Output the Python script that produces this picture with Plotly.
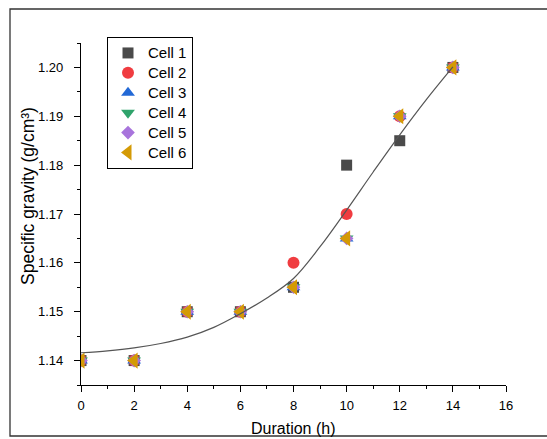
import plotly.graph_objects as go

duration = [0, 2, 4, 6, 8, 10, 12, 14]
cell1 = [1.14, 1.14, 1.15, 1.15, 1.155, 1.18, 1.185, 1.20]
cell2 = [1.14, 1.14, 1.15, 1.15, 1.16, 1.17, 1.19, 1.20]
cell3 = [1.14, 1.14, 1.15, 1.15, 1.155, 1.165, 1.19, 1.20]
cell4 = [1.14, 1.14, 1.15, 1.15, 1.155, 1.165, 1.19, 1.20]
cell5 = [1.14, 1.14, 1.15, 1.15, 1.155, 1.165, 1.19, 1.20]
cell6 = [1.14, 1.14, 1.15, 1.15, 1.155, 1.165, 1.19, 1.20]

fit_x = [0, 1, 2, 3, 4, 5, 6, 7, 8, 9, 10, 11, 12, 13, 14]
fit_y = [1.1416, 1.1420, 1.1426, 1.1435, 1.1448, 1.1468, 1.1496, 1.1528,
         1.1568, 1.1633, 1.1708, 1.1786, 1.1862, 1.1934, 1.2001]

series = [
    ("Cell 1", cell1, "square", "#4a4a4a", 11),
    ("Cell 2", cell2, "circle", "#f03c40", 12),
    ("Cell 3", cell3, "triangle-up", "#2369d6", 12),
    ("Cell 4", cell4, "triangle-down", "#2fa36b", 12),
    ("Cell 5", cell5, "diamond", "#a874dc", 10.5),
    ("Cell 6", cell6, "triangle-left", "#d49a05", 14),
]

fig = go.Figure()
for name, vals, sym, col, sz in series:
    fig.add_trace(go.Scatter(
        x=duration, y=vals, mode="markers",
        name="<span style='font-size:15px'>" + name + "</span>",
        marker=dict(symbol=sym, size=sz, color=col, line=dict(width=0)),
    ))

fig.add_trace(go.Scatter(
    x=fit_x, y=fit_y, mode="lines", line=dict(color="#555555", width=1.2, shape="spline"),
    showlegend=False, hoverinfo="skip",
))

W, H = 547, 439
L, R, T, B = 81, 41, 43, 54
pw, ph = W - L - R, H - T - B

def px_x(p):
    return (p - L) / pw

def px_y(p):
    return (H - B - p) / ph

fig.add_shape(type="rect", xref="paper", yref="paper",
              x0=px_x(10), x1=px_x(560), y0=px_y(436), y1=px_y(9),
              line=dict(color="#333333", width=1.3), layer="below")

font = "Liberation Sans, Arial, sans-serif"
fig.add_annotation(
    xref="paper", yref="paper", x=px_x(28), y=px_y(196),
    text="Specific gravity (g/cm³)", textangle=-90, showarrow=False,
    font=dict(size=17.5, family=font, color="black"),
    xanchor="center", yanchor="middle",
)
fig.add_annotation(
    xref="paper", yref="paper", x=px_x(293), y=px_y(428),
    text="Duration (h)", showarrow=False,
    font=dict(size=16, family=font, color="black"),
    xanchor="center", yanchor="middle",
)

fig.update_layout(
    width=W, height=H,
    margin=dict(l=L, r=R, t=T, b=B, autoexpand=False),
    paper_bgcolor="white", plot_bgcolor="white",
    font=dict(family=font, color="black", size=13),
    legend=dict(
        x=px_x(107), y=px_y(37), xanchor="left", yanchor="top",
        bordercolor="black", borderwidth=1, bgcolor="white",
        font=dict(size=13, family=font),
        itemwidth=30, tracegroupgap=0,
    ),
    xaxis=dict(
        range=[0, 16], tickmode="linear", tick0=0, dtick=2, automargin=False,
        showgrid=False, zeroline=False, showline=True, linecolor="black", linewidth=1.3,
        ticks="outside", ticklen=6, tickwidth=1.2, tickcolor="black",
        minor=dict(ticks="outside", ticklen=3, dtick=1, tickcolor="black", tickwidth=1.2, showgrid=False),
        tickfont=dict(size=13, family=font), ticklabelstandoff=2,
    ),
    yaxis=dict(
        range=[1.135, 1.205], tickmode="linear", tick0=1.14, dtick=0.01, tickformat=".2f",
        automargin=False,
        showgrid=False, zeroline=False, showline=True, linecolor="black", linewidth=1.3,
        ticks="outside", ticklen=6, tickwidth=1.2, tickcolor="black",
        minor=dict(ticks="outside", ticklen=3, dtick=0.005, tickcolor="black", tickwidth=1.2, showgrid=False),
        tickfont=dict(size=13, family=font), ticklabelstandoff=8,
    ),
)

fig.write_html("out.html")
